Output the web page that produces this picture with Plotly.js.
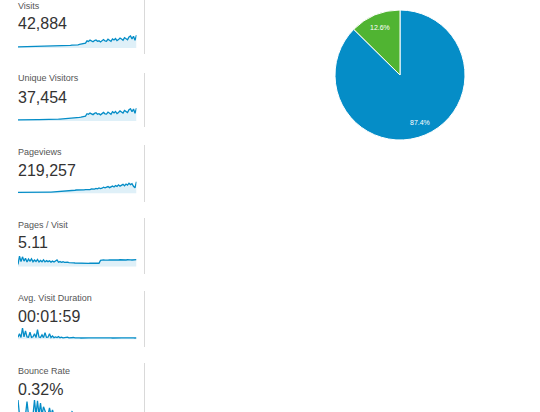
<!DOCTYPE html>
<html>
<head>
<meta charset="utf-8">
<script src="https://cdn.plot.ly/plotly-3.0.1.min.js"></script>
<style>
html,body{margin:0;padding:0;background:#fff;overflow:hidden;}
#chart{width:540px;height:412px;}
</style>
</head>
<body>
<div id="chart"></div>
<script>
// ---- data ----
const metricNames = ["Visits", "Unique Visitors", "Pageviews", "Pages / Visit", "Avg. Visit Duration", "Bounce Rate"];
const metricTotals = ["42,884", "37,454", "219,257", "5.11", "00:01:59", "0.32%"];

const visits = [60,62,58,64,66,60,63,68,65,62,70,67,64,72,70,68,74,71,76,73,78,80,76,82,85,80,88,92,
  95,100,108,104,115,122,118,130,140,136,150,165,160,178,190,205,220,240,
  360,330,395,345,310,370,405,335,360,300,385,420,350,340,440,375,330,455,400,470,365,420,500,445,390,520,470,410,555,600,455,590,380,650];

const uniqueVisitors = [55,58,54,60,61,57,59,63,60,58,65,62,60,66,64,63,68,66,70,67,72,74,70,76,78,74,82,85,
  88,92,100,96,106,112,108,120,128,125,138,150,146,162,175,188,200,220,
  330,305,360,320,290,345,375,310,335,280,355,390,325,315,405,350,305,420,370,435,340,390,460,410,360,480,435,380,515,555,420,545,350,590];

const pageviews = [450,470,440,480,500,460,490,510,480,470,520,500,490,530,510,500,540,520,560,540,570,590,560,600,620,590,640,660,
  700,760,820,800,900,980,950,1100,1250,1200,1350,1450,1400,1500,1420,1550,1480,1600,
  1520,1680,1600,1900,1750,1820,2150,1950,2300,2050,2200,2600,2350,2500,2900,2450,2750,3100,2700,3300,2950,3600,3050,3450,3800,3200,3950,3500,4300,3700,4100,3000,2400,5000];

const pagesPerVisit = [2.0,9.5,4.5,8.8,5.0,7.5,4.2,6.8,5.0,7.0,4.4,6.0,4.6,6.4,4.2,5.6,4.4,6.2,4.3,5.4,4.5,5.2,4.1,5.0,4.2,4.8,6.0,4.0,4.6,3.9,4.4,3.8,4.0,4.1,3.6,3.7,3.5,3.4,
  3.3,3.2,3.3,3.1,3.2,3.2,3.1,3.2,3.1,3.0,3.1,3.2,3.1,3.0,3.1,3.0,3.1,
  5.6,5.9,6.0,5.8,6.1,5.9,6.0,6.2,5.9,6.0,6.1,5.8,6.0,6.2,6.0,5.9,6.1,6.0,6.2,5.9,6.1,6.0,6.2,6.1,6.3];

const visitDuration = [120,300,110,600,140,450,130,120,380,110,140,300,100,520,130,110,240,100,350,110,120,300,100,180,95,
  130,100,150,95,120,90,110,95,120,85,100,90,105,85,95,
  80,90,78,85,82,92,76,84,80,88,78,86,82,80,90,76,84,80,88,78,85,82,90,78,84,80,86,79,88,82,80,85,78,90,82,86,80,84,78,88];

const bounceRate = [10,0,0,0,0,0,8.9,0,0,0,0,10,0,9.5,0,8.0,0,5.5,0,0,0,4.7,0,3.3,0,0,0,0,0,0,0,0,0,0,0,0,2.2,0,0,0,
  0,0,0,0,0,0,0,0,0,0,0,0,0,0,0,0,0,0,0,0,0,0,0,0,0,0,0,0,0,0,0,0,0,0,0,0,0,0,0,0];

const pieLabels = ["New Visitor", "Returning Visitor"];
const pieValues = [87.4, 12.6];

// ---- layout helpers ----
const W = 540, H = 412;
const px = v => v / W;
const py = v => 1 - v / H;

const series = [visits, uniqueVisitors, pageviews, pagesPerVisit, visitDuration, bounceRate];
// sparkline placement: [bottom px, top px, yrange]
const spark = [
  [48, 35, [0, 650]],
  [121, 108, [0, 590]],
  [193.5, 181.5, [0, 5000]],
  [266.7, 255.5, [0, 10]],
  [339.5, 328, [0, 600]],
  [412, 400, [2, 10]]
];
const titleY = [5.8, 78.2, 151.6, 224.6, 297.6, 370.8];
const numberY = [23.7, 97.1, 170.1, 242.7, 316.7, 389.7];
const divider = [[0, 54], [73, 127], [145, 202], [218, 274], [291, 347], [363, 412]];

const blue = "#058dc7";
const green = "#50b432";
const font = "Liberation Sans, Arial, sans-serif";

const traces = [];
const layout = {
  width: W, height: H,
  margin: {l: 0, r: 0, t: 0, b: 0},
  paper_bgcolor: "#fff", plot_bgcolor: "rgba(0,0,0,0)",
  showlegend: false,
  annotations: [], shapes: []
};

series.forEach((s, i) => {
  const xs = s.map((_, k) => k);
  const suf = i === 0 ? "" : String(i + 1);
  traces.push({
    type: "scatter", mode: "lines",
    x: xs, y: s,
    xaxis: "x" + suf, yaxis: "y" + suf,
    line: {color: blue, width: 1.3},
    fill: "tozeroy", fillcolor: "rgba(5,141,199,0.13)",
    hoverinfo: "skip"
  });
  layout["xaxis" + suf] = {domain: [px(18), px(136.5)], range: [0, s.length - 1], visible: false, fixedrange: true};
  layout["yaxis" + suf] = {domain: [py(spark[i][0]), py(spark[i][1])], range: spark[i][2], visible: false, fixedrange: true};

  layout.annotations.push({
    xref: "paper", yref: "paper", x: px(15.5), y: py(titleY[i]),
    xanchor: "left", yanchor: "middle", showarrow: false,
    text: metricNames[i], font: {family: font, size: 9, color: "#555"}
  });
  layout.annotations.push({
    xref: "paper", yref: "paper", x: px(15.5), y: py(numberY[i]),
    xanchor: "left", yanchor: "middle", showarrow: false,
    text: metricTotals[i], font: {family: font, size: 16, color: "#333"}
  });
  layout.shapes.push({
    type: "line", xref: "paper", yref: "paper",
    x0: px(144.5), x1: px(144.5), y0: py(divider[i][0]), y1: py(divider[i][1]),
    line: {color: "#d9d9d9", width: 1}
  });
});

// pie
const pieCx = 400, pieCy = 75, pieR = 65;
traces.push({
  type: "pie",
  labels: pieLabels, values: pieValues,
  sort: false, direction: "counterclockwise", rotation: 0,
  marker: {colors: [blue, green], line: {color: "#fff", width: 1}},
  textinfo: "none",
  domain: {x: [px(pieCx - pieR), px(pieCx + pieR)], y: [py(pieCy + pieR), py(pieCy - pieR)]},
  hoverinfo: "skip"
});
// percent labels placed along each slice's middle angle (clockwise from 12 o'clock for first slice)
const total = pieValues.reduce((a, b) => a + b, 0);
let acc = 0;
pieValues.forEach((v, k) => {
  const mid = (acc + v / 2) / total * 2 * Math.PI;
  acc += v;
  const r = pieR * 0.8;
  const lx = pieCx + r * Math.sin(mid);
  const ly = pieCy - r * Math.cos(mid);
  layout.annotations.push({
    xref: "paper", yref: "paper", x: px(lx), y: py(ly),
    xanchor: "center", yanchor: "middle", showarrow: false,
    text: (v / total * 100).toFixed(1) + "%",
    font: {family: font, size: 7, color: "#fff"}
  });
});

Plotly.newPlot("chart", traces, layout, {displayModeBar: false, staticPlot: true});
</script>
</body>
</html>
